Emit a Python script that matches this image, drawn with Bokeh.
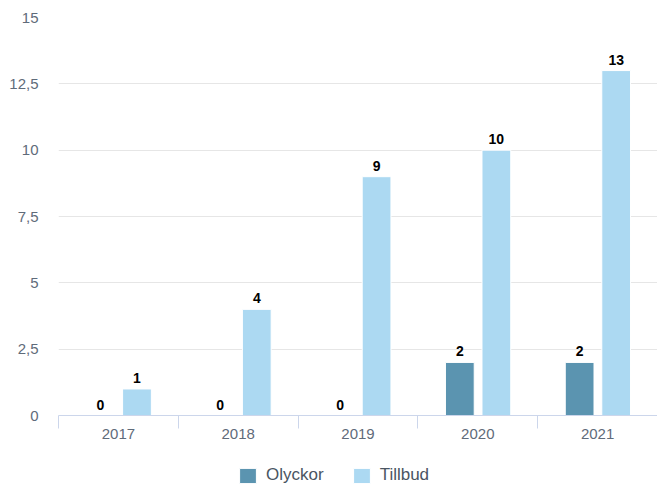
from bokeh.plotting import figure
from bokeh.models import ColumnDataSource, FixedTicker, Legend, LegendItem, Range1d
from bokeh.layouts import column
from bokeh.core.properties import value
from bokeh.embed import file_html
from bokeh.resources import INLINE

years = ["2017", "2018", "2019", "2020", "2021"]
olyckor = [0, 0, 0, 2, 2]
tillbud = [1, 4, 9, 10, 13]
series_names = ["Olyckor", "Tillbud"]
y_ticks = [0, 2.5, 5, 7.5, 10, 12.5, 15]
y_tick_labels = ["0", "2,5", "5", "7,5", "10", "12,5", "15"]

FONT = "Liberation Sans"
C_OLY = "#5b94b0"
C_TIL = "#acd9f2"

centers = [i + 0.5 for i in range(len(years))]
src = ColumnDataSource(dict(
    x_oly=[c - 0.15 for c in centers],
    x_til=[c + 0.155 for c in centers],
    olyckor=olyckor,
    tillbud=tillbud,
    lab_oly=[str(v) for v in olyckor],
    lab_til=[str(v) for v in tillbud],
))

p = figure(frame_width=599, frame_height=398, x_range=Range1d(0, len(years)), y_range=Range1d(0, 15),
           output_backend="svg", toolbar_location=None,
           min_border_left=58, min_border_right=0, min_border_top=17, min_border_bottom=40)
p.outline_line_color = None
p.background_fill_color = "white"

p.vbar(x="x_oly", top="olyckor", width=0.24, source=src, fill_color=C_OLY,
       line_color="white", line_width=1)
p.vbar(x="x_til", top="tillbud", width=0.24, source=src, fill_color=C_TIL,
       line_color="white", line_width=1)

for xcol, ycol, lcol in [("x_oly", "olyckor", "lab_oly"), ("x_til", "tillbud", "lab_til")]:
    p.text(x=xcol, y=ycol, text=lcol, source=src, text_align="center", text_baseline="bottom",
           y_offset=-6, text_font=value(FONT), text_font_style="bold",
           text_font_size="14px", text_color="#000000")

# x axis
p.xaxis.ticker = FixedTicker(ticks=centers, minor_ticks=list(range(len(years) + 1)))
p.xaxis.major_label_overrides = {c: y for c, y in zip(centers, years)}
p.xaxis.major_tick_line_color = None
p.xaxis.major_tick_out = 0
p.xaxis.major_tick_in = 0
p.xaxis.minor_tick_line_color = "#ccd6eb"
p.xaxis.minor_tick_out = 13
p.xaxis.minor_tick_in = 0
p.xaxis.axis_line_color = "#ccd6eb"
p.xaxis.major_label_standoff = 0
p.xaxis.major_label_text_font = FONT
p.xaxis.major_label_text_font_size = "15px"
p.xaxis.major_label_text_color = "#5f6b7a"
p.xgrid.grid_line_color = None

# y axis
p.yaxis.ticker = FixedTicker(ticks=y_ticks)
p.yaxis.major_label_overrides = {t: l for t, l in zip(y_ticks, y_tick_labels)}
p.yaxis.axis_line_color = None
p.yaxis.major_tick_line_color = None
p.yaxis.minor_tick_line_color = None
p.yaxis.major_tick_out = 0
p.yaxis.major_label_standoff = 20
p.yaxis.major_label_text_font = FONT
p.yaxis.major_label_text_font_size = "15px"
p.yaxis.major_label_text_color = "#5f6b7a"
p.ygrid.ticker = FixedTicker(ticks=y_ticks)
p.ygrid.grid_line_color = "#e6e6e6"

# legend strip below the chart (swatch renderers sit outside the visible range)
lg = figure(width=657, height=35, output_backend="svg", toolbar_location=None,
            x_axis_location=None, y_axis_location=None,
            min_border_left=0, min_border_right=0, min_border_top=0, min_border_bottom=0,
            x_range=Range1d(0, 1), y_range=Range1d(0, 1))
lg.outline_line_color = None
lg.xgrid.grid_line_color = None
lg.ygrid.grid_line_color = None
g1 = lg.vbar(x=[10], top=[1], width=1, fill_color=C_OLY, line_color="white", line_width=1)
g2 = lg.vbar(x=[10], top=[1], width=1, fill_color=C_TIL, line_color="white", line_width=1)
legend = Legend(items=[LegendItem(label=series_names[0], renderers=[g1]),
                       LegendItem(label=series_names[1], renderers=[g2])],
                orientation="horizontal", location=(179, 5),
                glyph_width=21, glyph_height=19, label_standoff=8, spacing=27,
                padding=0, margin=0, border_line_color=None, background_fill_alpha=0,
                label_text_font=FONT, label_text_font_size="17px", label_text_color="#4a5562")
lg.add_layout(legend, "center")

layout = column(p, lg, spacing=0)
open("out.html", "w").write(file_html(layout, INLINE))
